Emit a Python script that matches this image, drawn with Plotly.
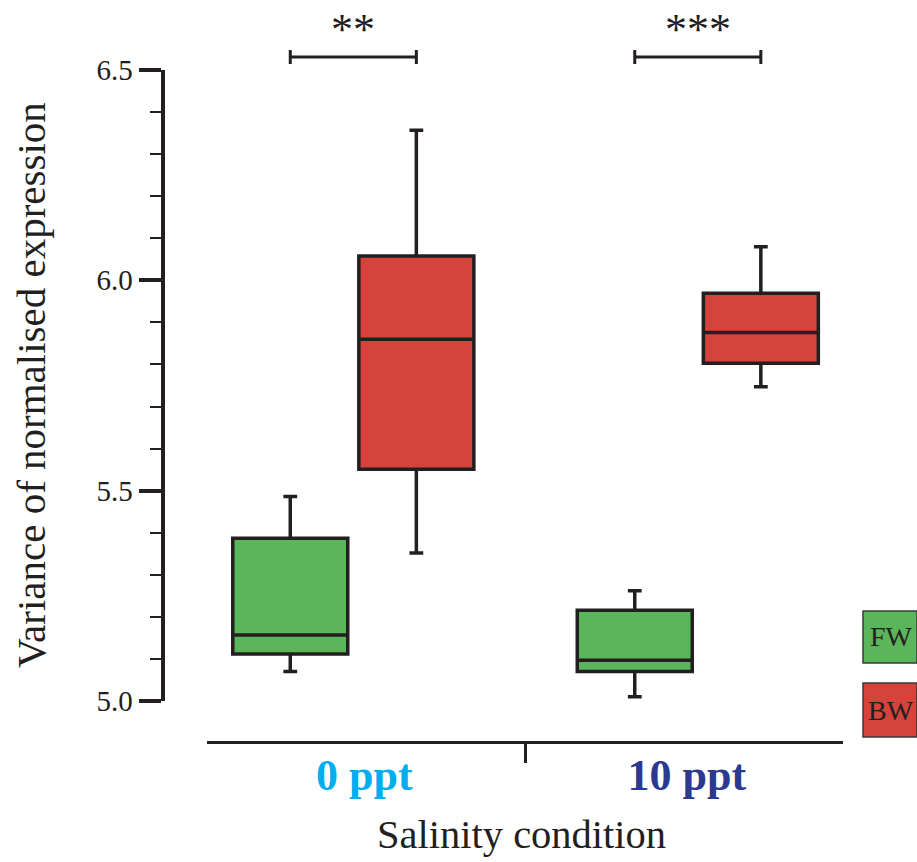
import plotly.graph_objects as go

# ---- data ----
categories = ["0 ppt", "10 ppt"]
tick_labels = ['<b><span style="color:#00AEEF">&nbsp;&nbsp;0 ppt</span></b>',
               '<b><span style="color:#2B3990">10 ppt&nbsp;&nbsp;</span></b>']
y_ticks = [5.0, 5.5, 6.0, 6.5]

fw_q1 = [5.112, 5.070]
fw_median = [5.157, 5.097]
fw_q3 = [5.387, 5.216]
fw_lower = [5.070, 5.010]
fw_upper = [5.486, 5.262]

bw_q1 = [5.551, 5.803]
bw_median = [5.860, 5.876]
bw_q3 = [6.058, 5.969]
bw_lower = [5.352, 5.747]
bw_upper = [6.357, 6.080]

significance = ["**", "***"]
series_names = ["FW", "BW"]

# ---- style ----
FONT = "Liberation Serif"
INK = "#231f20"
GREEN = "#5bb55a"
RED = "#d5433a"
W, H = 917, 862
BOXGAP = 0.268
BOXGROUPGAP = 0.088

fig = go.Figure()
for name, q1, med, q3, lo, hi, col in [
    ("FW", fw_q1, fw_median, fw_q3, fw_lower, fw_upper, GREEN),
    ("BW", bw_q1, bw_median, bw_q3, bw_lower, bw_upper, RED),
]:
    fig.add_trace(go.Box(
        name=name, x=categories, q1=q1, median=med, q3=q3,
        lowerfence=lo, upperfence=hi,
        fillcolor=col, line=dict(color=INK, width=3.5),
        whiskerwidth=0.12, boxpoints=False, hoverinfo="skip",
    ))

# offset of each box centre from its category centre (plotly grouping rule)
off = 0.25 * (1 - BOXGAP)

shapes = []
annotations = []
yb = 1.0206
dy = 0.0111
for i, sig in enumerate(significance):
    x0, x1 = i - off, i + off
    line = dict(color=INK, width=3)
    shapes.append(dict(type="line", xref="x", yref="y domain", x0=x0, x1=x1, y0=yb, y1=yb, line=line))
    shapes.append(dict(type="line", xref="x", yref="y domain", x0=x0, x1=x0, y0=yb - dy, y1=yb + dy, line=line))
    shapes.append(dict(type="line", xref="x", yref="y domain", x0=x1, x1=x1, y0=yb - dy, y1=yb + dy, line=line))
    annotations.append(dict(text=sig, xref="x", yref="y domain", x=i, y=1.064,
                            xanchor="center", yanchor="middle", showarrow=False,
                            font=dict(family=FONT, size=44, color=INK)))

# legend boxes
legend_boxes = [(GREEN, 611, 663), (RED, 683, 737)]
for (col, top, bot), name in zip(legend_boxes, series_names):
    shapes.append(dict(type="rect", xref="paper", yref="paper", layer="above",
                       x0=863 / W, x1=1.0, y0=(H - bot) / H, y1=(H - top) / H,
                       fillcolor=col, line=dict(color="#3a3a3a", width=1.5)))
    annotations.append(dict(text=name, xref="paper", yref="paper",
                            x=891 / W, y=(H - (top + bot) / 2) / H,
                            xanchor="center", yanchor="middle", showarrow=False,
                            font=dict(family=FONT, size=28, color=INK)))

annotations.append(dict(text="Salinity condition", xref="paper", yref="paper",
                        x=521.5 / W, y=0.003, xanchor="center", yanchor="bottom",
                        showarrow=False, font=dict(family=FONT, size=40.5, color=INK)))
annotations.append(dict(text="Variance of normalised expression", xref="paper", yref="paper",
                        x=31 / W, y=(H - 385) / H, xanchor="center", yanchor="middle",
                        textangle=-90, showarrow=False,
                        font=dict(family=FONT, size=41, color=INK)))

fig.update_layout(
    width=W, height=H,
    margin=dict(l=0, r=0, t=0, b=0),
    paper_bgcolor="white", plot_bgcolor="white",
    showlegend=False,
    boxmode="group", boxgap=BOXGAP, boxgroupgap=BOXGROUPGAP,
    shapes=shapes, annotations=annotations,
    xaxis=dict(
        type="category", categoryorder="array", categoryarray=categories,
        domain=[207 / W, 843 / W], range=[-0.4247, 1.4215],
        anchor="free", position=(H - 742) / H,
        showline=True, linewidth=3, linecolor=INK,
        ticks="outside", ticklen=19, tickwidth=3, tickcolor=INK,
        tickson="boundaries", tickmode="array", tickvals=categories, ticktext=tick_labels,
        tickfont=dict(family=FONT, size=44, color=INK), ticklabelstandoff=-7,
        showgrid=False, zeroline=False, automargin=False,
    ),
    yaxis=dict(
        domain=[(H - 701) / H, (H - 70) / H], range=[5.0, 6.5],
        anchor="free", position=162.5 / W,
        showline=True, linewidth=4, linecolor=INK,
        ticks="outside", ticklen=22, tickwidth=4, tickcolor=INK,
        tickmode="array", tickvals=y_ticks, tickformat=".1f",
        tickfont=dict(family=FONT, size=29, color=INK),
        minor=dict(tickmode="linear", tick0=5.0, dtick=0.1, ticks="outside",
                   ticklen=11, tickwidth=1.5, tickcolor=INK),
        showgrid=False, zeroline=False, automargin=False,
    ),
)

fig.write_html(
    "out.html",
    config={"displayModeBar": False},
    post_script="document.body.style.margin='0px';document.body.style.overflow='hidden';",
)
